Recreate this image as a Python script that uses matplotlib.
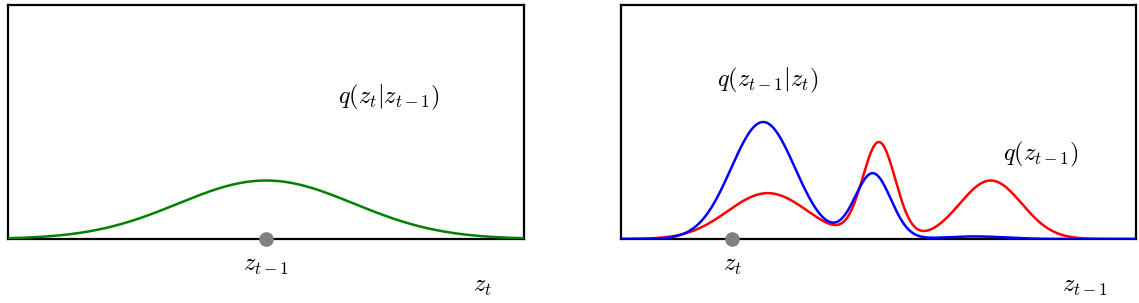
import numpy as np
import matplotlib
matplotlib.use("Agg")
import matplotlib.pyplot as plt

plt.rcParams['mathtext.fontset'] = 'cm'

# mixture components: centre, width, height (x in [0, 10], y as axes fraction)
fwd_mu = [5.0]
fwd_sigma = [1.7]
fwd_amp = [0.25]

prior_mu = [2.85, 5.01, 7.18]
prior_sigma = [0.78, 0.32, 0.60]
prior_amp = [0.196, 0.41, 0.25]

post_mu = [2.76, 4.89, 6.87]
post_sigma = [0.62, 0.35, 0.60]
post_amp = [0.50, 0.28, 0.011]

z_prev = 5.0   # point z_{t-1} in left panel
z_t = 2.155    # point z_t in right panel


def mixture(x, mus, sigmas, amps):
    y = np.zeros_like(x)
    for m, s, a in zip(mus, sigmas, amps):
        y += a * np.exp(-(x - m) ** 2 / (2 * s ** 2))
    return y


x = np.linspace(0, 10, 1000)

fig = plt.figure(figsize=(11.39, 3.03), dpi=100)
W, H = 1139, 303
ax1 = fig.add_axes([8 / W, 64 / H, 516 / W, 234 / H])
ax2 = fig.add_axes([621 / W, 64 / H, 515 / W, 234 / H])

for ax in (ax1, ax2):
    ax.set_xlim(0, 10)
    ax.set_ylim(0, 1)
    ax.set_xticks([])
    ax.set_yticks([])
    for sp in ax.spines.values():
        sp.set_linewidth(1.6)
        sp.set_color('black')

fs = 17.5

# left: forward kernel
ax1.plot(x, mixture(x, fwd_mu, fwd_sigma, fwd_amp), color='green', lw=1.8, zorder=3)
ax1.plot([z_prev], [0], 'o', color='grey', ms=9.5, clip_on=False, zorder=4)
ax1.text(z_prev, -0.11, r'$z_{t-1}$', ha='center', va='center', fontsize=fs)
ax1.text(9.2, -0.20, r'$z_t$', ha='center', va='center', fontsize=fs)
ax1.text(7.38, 0.607, r'$q(z_t|z_{t-1})$', ha='center', va='center', fontsize=fs)

# right: prior and posterior
ax2.plot(x, mixture(x, prior_mu, prior_sigma, prior_amp), color='red', lw=1.8, zorder=3)
ax2.plot(x, mixture(x, post_mu, post_sigma, post_amp), color='blue', lw=1.8, zorder=3)
ax2.plot([z_t], [0], 'o', color='grey', ms=9.5, clip_on=False, zorder=4)
ax2.text(z_t, -0.11, r'$z_t$', ha='center', va='center', fontsize=fs)
ax2.text(9.01, -0.20, r'$z_{t-1}$', ha='center', va='center', fontsize=fs)
ax2.text(2.85, 0.679, r'$q(z_{t-1}|z_t)$', ha='center', va='center', fontsize=fs)
ax2.text(8.16, 0.363, r'$q(z_{t-1})$', ha='center', va='center', fontsize=fs)

fig.savefig('out.png', dpi=100)
